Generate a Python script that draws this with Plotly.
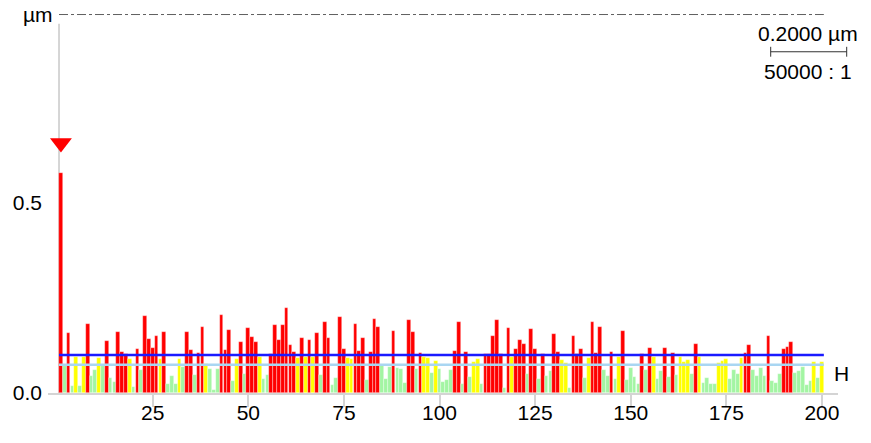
import plotly.graph_objects as go

# ---- data -------------------------------------------------------------
positions = list(range(1, 201))
heights_um = [
    0.580, 0.070, 0.159, 0.018, 0.094, 0.019, 0.094, 0.182, 0.046, 0.061,
    0.093, 0.070, 0.137, 0.039, 0.029, 0.160, 0.107, 0.102, 0.089, 0.016,
    0.116, 0.060, 0.203, 0.142, 0.119, 0.151, 0.089, 0.160, 0.024, 0.045,
    0.024, 0.089, 0.069, 0.161, 0.114, 0.047, 0.104, 0.173, 0.076, 0.063,
    0.008, 0.063, 0.204, 0.114, 0.166, 0.032, 0.089, 0.134, 0.050, 0.172,
    0.147, 0.135, 0.094, 0.037, 0.047, 0.103, 0.178, 0.139, 0.179, 0.223,
    0.126, 0.109, 0.093, 0.144, 0.094, 0.139, 0.094, 0.157, 0.047, 0.187,
    0.144, 0.021, 0.040, 0.199, 0.115, 0.093, 0.089, 0.182, 0.110, 0.146,
    0.035, 0.107, 0.195, 0.174, 0.073, 0.038, 0.068, 0.162, 0.066, 0.063,
    0.026, 0.191, 0.160, 0.063, 0.106, 0.094, 0.092, 0.052, 0.084, 0.064,
    0.030, 0.034, 0.061, 0.111, 0.187, 0.024, 0.109, 0.042, 0.082, 0.089,
    0.024, 0.102, 0.102, 0.151, 0.192, 0.102, 0.013, 0.171, 0.095, 0.116,
    0.139, 0.130, 0.051, 0.169, 0.116, 0.036, 0.103, 0.046, 0.059, 0.156,
    0.107, 0.087, 0.078, 0.013, 0.150, 0.103, 0.117, 0.039, 0.091, 0.186,
    0.104, 0.174, 0.060, 0.046, 0.109, 0.037, 0.094, 0.163, 0.034, 0.066,
    0.042, 0.024, 0.102, 0.061, 0.118, 0.094, 0.037, 0.058, 0.118, 0.043,
    0.104, 0.047, 0.094, 0.082, 0.087, 0.050, 0.130, 0.094, 0.027, 0.039,
    0.024, 0.024, 0.080, 0.084, 0.089, 0.036, 0.060, 0.049, 0.093, 0.104,
    0.126, 0.060, 0.046, 0.066, 0.046, 0.151, 0.032, 0.027, 0.050, 0.117,
    0.120, 0.133, 0.052, 0.059, 0.068, 0.021, 0.032, 0.082, 0.039, 0.082,
]
upper_limit = 0.100
lower_limit = 0.0746
x_ticks = [25, 50, 75, 100, 125, 150, 175, 200]
y_ticks = [0.0, 0.5]
y_tick_labels = ["0.0", "0.5"]
max_index = heights_um.index(max(heights_um))
scale_label = "0.2000 µm"
ratio_label = "50000 : 1"

RED, YEL, GRN = "#ff0000", "#ffff00", "#a3f5a3"
colors = [RED if v > upper_limit else (YEL if v > lower_limit else GRN) for v in heights_um]

FONT = "Liberation Sans, Arial, sans-serif"
FS = 21
fig = go.Figure()
fig.add_trace(go.Bar(x=positions, y=heights_um, width=0.97,
                     marker=dict(color=colors,
                                 line=dict(width=0.6, color="rgba(255,255,255,0.55)")),
                     showlegend=False, hoverinfo="x+y"))
x0, x1 = positions[0] - 0.5, positions[-1] + 0.5
fig.add_trace(go.Scatter(x=[x0, x1], y=[lower_limit] * 2, mode="lines",
                         line=dict(color="#a9d6f2", width=2.5), showlegend=False))
fig.add_trace(go.Scatter(x=[x0, x1], y=[upper_limit] * 2, mode="lines",
                         line=dict(color="#1a1aff", width=2.5), showlegend=False))
fig.add_trace(go.Scatter(x=[positions[max_index]], y=[heights_um[max_index] + 0.078],
                         mode="markers",
                         marker=dict(symbol="triangle-down", size=19, color="#ff0000",
                                     line=dict(width=0)),
                         showlegend=False, cliponaxis=False))

shapes = [
    dict(type="line", xref="x", yref="y", x0=x0, x1=x0, y0=0, y1=0.972,
         line=dict(color="#c8c8c8", width=1.5), layer="below"),
    dict(type="line", xref="x", yref="paper", x0=x0, x1=x1, y0=0.996, y1=0.996,
         line=dict(color="#606060", width=1, dash="dashdot")),
    dict(type="line", xref="paper", yref="paper", x0=0.9148, x1=1.011, y0=0.898, y1=0.898,
         line=dict(color="#333333", width=1)),
    dict(type="line", xref="paper", yref="paper", x0=0.9148, x1=0.9148, y0=0.885, y1=0.911,
         line=dict(color="#333333", width=1)),
    dict(type="line", xref="paper", yref="paper", x0=1.011, x1=1.011, y0=0.885, y1=0.911,
         line=dict(color="#333333", width=1)),
]
annotations = [
    dict(text="µm", xref="paper", yref="paper", x=0.009, y=0.997, xanchor="right",
         yanchor="middle", showarrow=False, font=dict(size=FS, color="black", family=FONT)),
    dict(text="H", xref="paper", yref="paper", x=0.9924, y=0.0526, xanchor="left",
         yanchor="middle", showarrow=False, font=dict(size=FS, color="black", family=FONT)),
    dict(text=scale_label, xref="paper", yref="paper", x=0.9614, y=0.947, xanchor="center",
         yanchor="middle", showarrow=False, font=dict(size=FS, color="black", family=FONT)),
    dict(text=ratio_label, xref="paper", yref="paper", x=0.9621, y=0.8455, xanchor="center",
         yanchor="middle", showarrow=False, font=dict(size=FS, color="black", family=FONT)),
]

fig.update_layout(
    width=871, height=443,
    margin=dict(l=48, r=33, t=13, b=50),
    paper_bgcolor="white", plot_bgcolor="white",
    font=dict(family=FONT, size=FS, color="black"),
    bargap=0, shapes=shapes, annotations=annotations,
    xaxis=dict(range=[-2.38, 204.2], tickvals=x_ticks, ticks="outside", ticklen=12,
               tickwidth=2, tickcolor="#d4d4d4", showline=True, linecolor="#d4d4d4",
               linewidth=2, showgrid=False, zeroline=False, automargin=False,
               ticklabelstandoff=-12, tickfont=dict(size=FS, family=FONT)),
    yaxis=dict(range=[0, 1.0], tickvals=y_ticks, ticktext=y_tick_labels, ticks="",
               showline=False, showgrid=False, zeroline=False, automargin=False,
               ticklabelstandoff=5, tickfont=dict(size=FS, family=FONT)),
)
fig.write_html("out.html", config={"displayModeBar": False},
               post_script="document.body.style.margin='0';")
